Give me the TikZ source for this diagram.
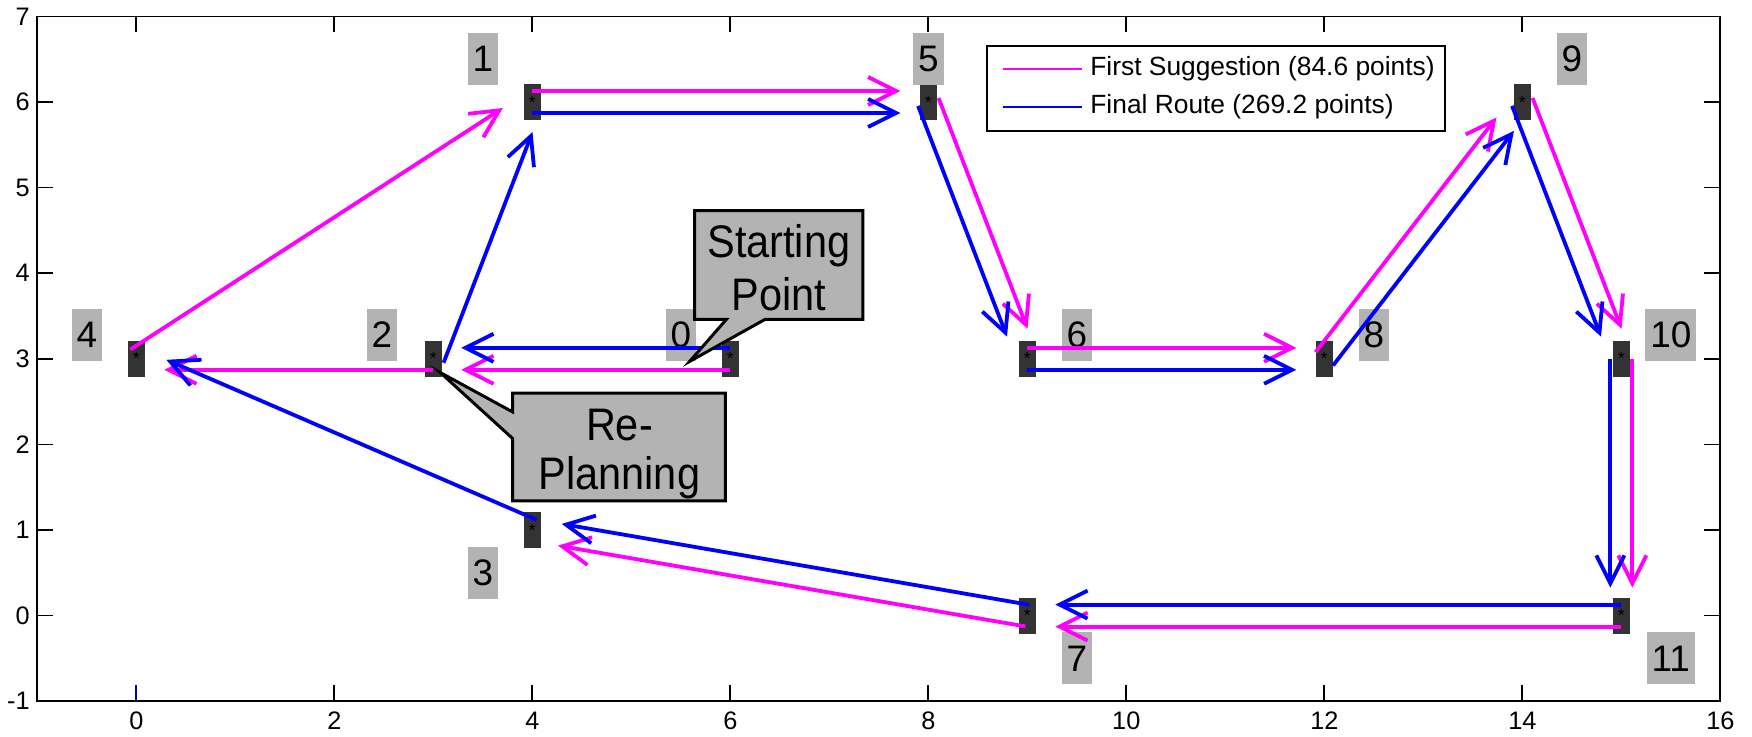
\documentclass[tikz,border=0pt]{standalone}
\usepackage{fontspec}
\setmainfont{Liberation Sans}
\usetikzlibrary{arrows.meta,calc}
\definecolor{mag}{rgb}{1,0,1}
\definecolor{blu}{rgb}{0,0,1}
\definecolor{markc}{HTML}{333333}
\definecolor{labc}{HTML}{B3B3B3}
\newcommand\magarrow[2]{\draw[mroute] ($(#1)!0.11cm!90:(#2)$) -- ($(#2)!0.11cm!-90:(#1)$);}
\newcommand\bluarrow[2]{\draw[broute] ($(#1)!0.11cm!-90:(#2)$) -- ($(#2)!0.11cm!90:(#1)$);}
\newcommand\tallx[1]{\scalebox{1}[1.1]{#1}}
\begin{document}
\begin{tikzpicture}[x=0.99cm,y=0.856cm,
  marker/.style={fill=markc, minimum width=0.17cm, minimum height=0.36cm, inner sep=0pt, font=\fontsize{5}{5}\selectfont, text=black},
  numlab/.style={fill=labc, inner xsep=0.5mm, inner ysep=0pt, minimum height=5.2mm, font=\fontsize{10.5}{10.5}\selectfont},
  route/.style={line width=0.38mm, line cap=butt, shorten >=0.28cm, -{Straight Barb[length=2.8mm,width=2.8mm]}},
  mroute/.style={route, draw=mag},
  broute/.style={route, draw=blu},
  callout/.style={fill=labc, draw=black, line width=0.85pt, line join=miter},
  calltext/.style={font=\fontsize{11.8}{11.8}\selectfont, anchor=base, inner sep=0pt},
  ticklab/.style={font=\fontsize{7.2}{7.2}\selectfont, inner sep=0pt},
  legtext/.style={font=\fontsize{7.5}{7.5}\selectfont, anchor=west, inner sep=0pt},
]
\useasboundingbox (-1.3768,-1.4065) rectangle (16.3202,7.1916);
% axes
\draw[line width=0.5pt] (-1,-1) rectangle (16,7);
\foreach \x in {2,4,...,14} {\draw[line width=0.5pt] (\x,-1) -- ++(0pt,0.16cm);}
\draw[line width=0.5pt, blu!60!black] (0,-1) -- ++(0pt,0.16cm);
\foreach \x in {0,2,...,14} {\draw[line width=0.5pt] (\x,7) -- ++(0pt,-0.16cm);}
\foreach \y in {0,...,6} {\draw[line width=0.5pt] (-1,\y) -- ++(0.16cm,0pt); \draw[line width=0.5pt] (16,\y) -- ++(-0.16cm,0pt);}
\foreach \x in {0,2,...,16} {\node[ticklab] (tx\x) at (\x,-1.23) {\x};}
\foreach \y in {-1,...,7} {\node[ticklab, anchor=east] (ty\y) at (-1.07,\y) {\y};}
% markers
\node[marker] (n0) at (6,3) {*};
\node[marker] (n1) at (4,6) {*};
\node[marker] (n2) at (3,3) {*};
\node[marker] (n3) at (4,1) {*};
\node[marker] (n4) at (0,3) {*};
\node[marker] (n5) at (8,6) {*};
\node[marker] (n6) at (9,3) {*};
\node[marker] (n7) at (9,0) {*};
\node[marker] (n8) at (12,3) {*};
\node[marker] (n9) at (14,6) {*};
\node[marker] (n10) at (15,3) {*};
\node[marker] (n11) at (15,0) {*};
% labels
\node[numlab] (l0) at (5.5,3.28) {0};
\node[numlab] (l1) at (3.5,6.5) {1};
\node[numlab] (l2) at (2.48,3.28) {2};
\node[numlab] (l3) at (3.5,0.5) {3};
\node[numlab] (l4) at (-0.5,3.28) {4};
\node[numlab] (l5) at (8,6.5) {5};
\node[numlab] (l6) at (9.5,3.28) {6};
\node[numlab] (l7) at (9.5,-0.5) {7};
\node[numlab] (l8) at (12.5,3.28) {8};
\node[numlab] (l9) at (14.5,6.5) {9};
\node[numlab] (l10) at (15.5,3.28) {10};
\node[numlab] (l11) at (15.5,-0.5) {11};
% first suggestion
\magarrow{n0}{n2}
\magarrow{n2}{n4}
\magarrow{n4}{n1}
\magarrow{n1}{n5}
\magarrow{n5}{n6}
\magarrow{n6}{n8}
\magarrow{n8}{n9}
\magarrow{n9}{n10}
\magarrow{n10}{n11}
\magarrow{n11}{n7}
\magarrow{n7}{n3}
% final route
\bluarrow{n0}{n2}
\bluarrow{n2}{n1}
\bluarrow{n1}{n5}
\bluarrow{n5}{n6}
\bluarrow{n6}{n8}
\bluarrow{n8}{n9}
\bluarrow{n9}{n10}
\bluarrow{n10}{n11}
\bluarrow{n11}{n7}
\bluarrow{n7}{n3}
\bluarrow{n3}{n4}
% callouts
\draw[callout] (5.64,3.46) -- (5.96,3.46) -- (5.59,2.97) -- (6.35,3.46) -- (7.34,3.46) -- (7.34,4.73) -- (5.64,4.73) -- cycle;
\node[calltext] (sp1) at (6.49,4.18) {\tallx{Starting}};
\node[calltext] (sp2) at (6.49,3.57) {\tallx{Point}};
\draw[callout] (3.80,2.60) -- (5.95,2.60) -- (5.95,1.34) -- (3.80,1.34) -- (3.80,2.07) -- (3.07,2.84) -- (3.80,2.38) -- cycle;
\node[calltext] (rp1) at (4.88,2.05) {\tallx{Re-}};
\node[calltext] (rp2) at (4.88,1.47) {\tallx{Planning}};
% legend
\draw[fill=white, line width=0.5pt] (8.59,5.66) rectangle (13.22,6.65);
\coordinate (lm1) at (8.75,6.385);
\coordinate (lm2) at (9.55,6.385);
\coordinate (lb1) at (8.75,5.94);
\coordinate (lb2) at (9.55,5.94);
\draw[mag, line width=0.4pt] (lm1) -- (lm2);
\draw[blu, line width=0.4pt] (lb1) -- (lb2);
\node[legtext] (lt1) at (9.63,6.385) {First Suggestion (84.6 points)};
\node[legtext] (lt2) at (9.63,5.94) {Final Route (269.2 points)};
\end{tikzpicture}
\end{document}
